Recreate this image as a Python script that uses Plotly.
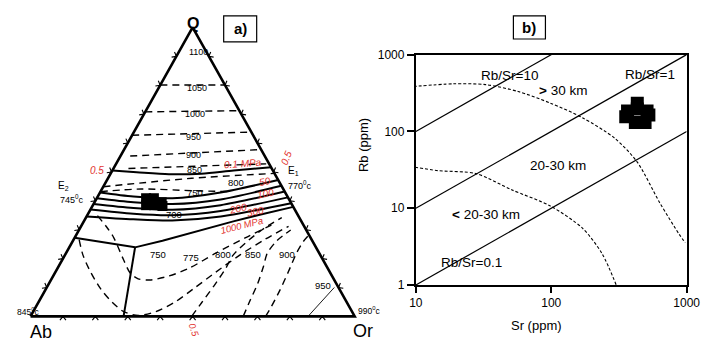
import math
import plotly.graph_objects as go

FONT = "Liberation Sans, Arial, sans-serif"
RED = "#e2352f"

# ===================== Panel a: Q-Ab-Or (compositions in %, Ab = 100 - Q - Or) =====================
tri_q = [0, 0, 100, 0]
tri_or = [0, 100, 0, 0]

# high-temperature isotherms (dashed)
iso1050_q = [80.1, 80.1];  iso1050_or = [0, 19.9]
iso1000_q = [70.8, 71.2];  iso1000_or = [0, 28.8]
iso950_q = [62.7, 63.8];   iso950_or = [0, 36.2]
iso900_q = [55.5, 57.7];   iso900_or = [3.0, 41.3]
iso850_q = [51.2, 52.8];   iso850_or = [4.6, 46.3]
iso800_q = [44.9, 47.8, 49.5];       iso800_or = [0, 25.8, 50.5]
iso750_q = [43.2, 44.1, 43.5, 43.2]; iso750_or = [0, 12.1, 28.25, 40.1]

# low-temperature isotherms in the feldspar fields (dashed)
low_inner_q = [34.9, 30.6, 27.2, 19.6, 14.95, 13.0, 12.6, 14.0, 16.6, 21.9, 27.2, 31.6]
low_inner_or = [3.2, 8.4, 12.1, 18.9, 23.3, 26.7, 30.5, 35.8, 40.5, 46.2, 52.6, 58.5]
low_outer_q = [26.6, 21.3, 15.3, 9.6, 5.0, 1.66, 0.33, 1.66, 5.0, 9.6, 15.3, 21.3, 26.6, 31.2]
low_outer_or = [1.7, 5.5, 10.9, 16.8, 22.6, 27.9, 33.1, 37.8, 42.1, 45.5, 49.5, 54.0, 58.9, 64.0]
low_b_q = [0, 4.65, 10.6, 16.6, 21.3, 26.2, 30.6, 34.2]
low_b_or = [49.7, 50.4, 51.3, 51.9, 51.9, 54.0, 56.9, 60.4]
low_c_q = [0, 5.3, 11.3, 17.3, 21.9, 26.2, 29.9]
low_c_or = [65.6, 65.0, 64.4, 63.2, 62.1, 62.9, 65.3]
low_900_q = [0, 3.3, 9.0, 15.6, 21.9, 25.9, 28.2]
low_900_or = [72.5, 72.6, 72.4, 71.8, 71.1, 71.2, 71.8]
line950_q = [0, 10.0]
line950_or = [85.6, 88.7]

# minimum-melt curves for different pressures (solid)
p01_q = [50.5, 49.9, 49.2, 49.4, 50.5, 51.6];  p01_or = [0, 7.8, 18.1, 28.0, 37.4, 48.4]
p50_q = [42.9, 41.5, 40.9, 42.9, 47.2];        p50_or = [0, 11.0, 23.3, 37.2, 52.8]
p100_q = [40.9, 39.5, 38.9, 40.5, 45.2];       p100_or = [0, 12.0, 24.3, 38.4, 54.8]
p200_q = [38.9, 37.5, 36.9, 38.5, 43.2];       p200_or = [0, 13.0, 25.3, 39.4, 56.8]
p300_q = [37.0, 35.5, 35.0, 36.5, 41.2];       p300_or = [0, 14.0, 26.2, 40.4, 58.8]
p1000_q = [34.6, 33.6, 33.2, 34.6, 39.2];      p1000_or = [0, 14.9, 27.1, 41.4, 60.8]

# field boundaries (solid)
fb_q = [27.2, 23.9, 26.2, 30.0, 32.9, 35.2, 37.9]
fb_or = [0, 20.3, 27.6, 37.7, 46.1, 53.1, 62.1]
fb2_q = [23.9, 0]
fb2_or = [20.3, 28.7]

# samples (black cluster)
blob_a_q = [40.9, 40.9, 38.5, 38.5, 39.5, 38.2]
blob_a_or = [15.2, 17.6, 16.4, 18.8, 20.7, 21.6]

tick_fracs = [10, 20, 30, 40, 50, 60, 70, 80, 90]

# ===================== Panel b: Rb vs Sr =====================
ratio_sr = [10, 1000]
ratios = [10, 1, 0.1]
deep_sr = [8.81, 19.0, 32.8, 56.9, 98.4, 169.8, 295, 432, 631, 881, 977]
deep_rb = [380, 417, 407, 331, 234, 151, 81.3, 39.8, 11.9, 4.57, 3.55]
mid_sr = [9.06, 14.5, 27.9, 50.9, 98.4, 170, 237, 302]
mid_rb = [35.1, 30.9, 28.2, 17.4, 10.7, 5.5, 2.57, 1.0]
blob_b_sr = [366, 432, 510, 432, 418, 493, 526, 355]
blob_b_rb = [185, 196, 185, 232, 131, 131, 164, 155]
b_xticks = [10, 100, 1000]
b_yticks = [1, 10, 100, 1000]

# ---------------- page geometry ----------------
W, H = 714, 349
PAD = 8  # the page draws the figure 8 px in from the window's top-left corner
VA = (24.0, 322.0)   # Ab corner (window px)
VO = (358.0, 322.0)  # Or corner
VQ = (191.0, 21.0)   # Q corner


def tern(qs, ors):
    xs, ys = [], []
    for q, o in zip(qs, ors):
        a = 100 - q - o
        xs.append((a * VA[0] + o * VO[0] + q * VQ[0]) / 100)
        ys.append((a * VA[1] + o * VO[1] + q * VQ[1]) / 100)
    return xs, ys


fig = go.Figure()


def add_a(qs, ors, width=1.4, dash=None, shape="linear", color="black"):
    x, y = tern(qs, ors)
    line = dict(color=color, width=width, shape=shape)
    if dash:
        line["dash"] = dash
    if shape == "spline":
        line["smoothing"] = 0.8
    fig.add_trace(go.Scatter(x=x, y=y, mode="lines", line=line, hoverinfo="skip",
                             showlegend=False, xaxis="x", yaxis="y"))


DASH = "7px,5px"
for qs, ors in [(iso1050_q, iso1050_or), (iso1000_q, iso1000_or), (iso950_q, iso950_or),
                (iso900_q, iso900_or), (iso850_q, iso850_or)]:
    add_a(qs, ors, 1.4, DASH)
for qs, ors in [(iso800_q, iso800_or), (iso750_q, iso750_or), (low_inner_q, low_inner_or),
                (low_outer_q, low_outer_or), (low_b_q, low_b_or), (low_c_q, low_c_or),
                (low_900_q, low_900_or)]:
    add_a(qs, ors, 1.4, DASH, "spline")
add_a(line950_q, line950_or, 0.9)

for qs, ors in [(p01_q, p01_or), (p50_q, p50_or), (p100_q, p100_or), (p200_q, p200_or),
                (p300_q, p300_or), (p1000_q, p1000_or)]:
    add_a(qs, ors, 2.0, None, "spline")
add_a(fb_q, fb_or, 2.0)
add_a(fb2_q, fb2_or, 2.0)

# sample cluster
bx, by = tern(blob_a_q, blob_a_or)
fig.add_trace(go.Scatter(x=bx, y=by, mode="markers", hoverinfo="skip", showlegend=False,
                         marker=dict(symbol="square", size=10, color="black", line=dict(width=0))))


# chevron ticks on the three sides (apex on the side, legs outside)
def unit(v):
    n = math.hypot(v[0], v[1])
    return (v[0] / n, v[1] / n)


tx, ty = [], []
sides = []
for f in tick_fracs:
    sides.append(((0, f), (0, 1), (1, 0)))                               # base (Ab-Or)
    sides.append(((f, 0), unit((-301, -167)), unit((167, -301))))        # left (Ab-Q)
    sides.append(((f, 100 - f), unit((301, -167)), unit((167, 301))))    # right (Q-Or)
L = 5.0
ang = math.radians(38)
for (q, o), n, d in sides:
    px, py = tern([q], [o])
    px, py = px[0], py[0]
    for s in (1, -1):
        tx += [px + L * (math.cos(ang) * n[0] + s * math.sin(ang) * d[0]), px]
        ty += [py + L * (math.cos(ang) * n[1] + s * math.sin(ang) * d[1]), py]
    tx.append(None)
    ty.append(None)
fig.add_trace(go.Scatter(x=tx, y=ty, mode="lines", line=dict(color="black", width=1.1),
                         hoverinfo="skip", showlegend=False))

add_a(tri_q, tri_or, 2.6)

# ---------------- panel b traces ----------------
for r in ratios:
    fig.add_trace(go.Scatter(x=ratio_sr, y=[r * s for s in ratio_sr], mode="lines",
                             line=dict(color="black", width=1.2), hoverinfo="skip",
                             showlegend=False, xaxis="x2", yaxis="y2"))
for sx, sy in [(deep_sr, deep_rb), (mid_sr, mid_rb)]:
    fig.add_trace(go.Scatter(x=sx, y=sy, mode="lines",
                             line=dict(color="black", width=1.1, dash="3px,2px", shape="spline",
                                       smoothing=0.8),
                             hoverinfo="skip", showlegend=False, xaxis="x2", yaxis="y2"))
fig.add_trace(go.Scatter(x=blob_b_sr, y=blob_b_rb, mode="markers", hoverinfo="skip",
                         showlegend=False, xaxis="x2", yaxis="y2",
                         marker=dict(symbol="square", size=13, color="black", line=dict(width=0))))

# ---------------- text ----------------
ann = []


def txt(x, y, s, size=10, color="black", angle=0, xanchor="center"):
    ann.append(dict(x=x, y=y, xref="x", yref="y", text=s, showarrow=False, textangle=angle,
                    xanchor=xanchor, yanchor="middle",
                    font=dict(family=FONT, size=size, color=color)))


# panel a labels
txt(191.5, 17, "<b>Q</b>", 16)
txt(35, 338, "Ab", 18)
txt(367, 337, "Or", 18)
txt(240, 22.5, "<b>a)</b>", 15)
for s, x, y in [("1100", 197, 47), ("1050", 195, 84), ("1000", 193, 111), ("950", 192, 135),
                ("900", 192, 154), ("850", 193, 169)]:
    txt(x, y, s, 9)
for s, x, y in [("800", 236, 182), ("750", 193, 193), ("700", 172, 216), ("750", 155, 258),
                ("775", 189, 261), ("800", 222, 258), ("850", 253, 257), ("900", 288, 257),
                ("950", 325, 290)]:
    txt(x, y, s, 9.5)
txt(243, 163, "<i>0.1 MPa</i>", 10, RED, -4)
txt(92, 170, "<i>0.5</i>", 10, RED)
txt(287, 157, "<i>0.5</i>", 10, RED, -68)
txt(192, 336, "<i>0.5</i>", 9.5, RED, 72)
txt(266, 181, "<i>50</i>", 10, RED, -10)
txt(266, 194, "<i>100</i>", 10, RED, -10)
txt(238, 210, "<i>200</i>", 10, RED, -12)
txt(256, 213, "<i>300</i>", 10, RED, -12)
txt(241, 227, "<i>1000 MPa</i>", 9.5, RED, -14)
txt(295, 170, "E<sub>1</sub>", 10)
txt(302, 185, "770<sup>0</sup>c", 9)
txt(58, 186, "E<sub>2</sub>", 10)
txt(67, 200, "745<sup>0</sup>c", 9)
txt(8.5, 317, "845<sup>0</sup>c", 8.5, xanchor="left")
txt(373, 316, "990<sup>0</sup>c", 8.5)

# panel b labels
txt(538, 21, "<b>b)</b>", 15)
txt(517, 71, "Rb/Sr=10", 13.5)
txt(662, 70, "Rb/Sr=1", 13.5)
txt(573, 87, "<b>&gt;</b> 30 km", 13.5)
txt(567, 165, "20-30 km", 13.5)
txt(493, 216, "<b>&lt;</b> 20-30 km", 13.5)
txt(478, 266, "Rb/Sr=0.1", 13.5)
txt(545, 331, "Sr (ppm)", 13)
txt(367, 143, "Rb (ppm)", 13, angle=-90)

shapes = [
    dict(type="rect", xref="x", yref="y", x0=223, y0=9, x1=257, y1=36,
         line=dict(color="black", width=1.2)),
    dict(type="rect", xref="x", yref="y", x0=521.5, y0=9, x1=554.5, y1=33,
         line=dict(color="black", width=1.2)),
]


def dom_x(a, b):
    return [(a - PAD) / W, (b - PAD) / W]


def dom_y(top, bottom):
    return [(H + PAD - bottom) / H, (H + PAD - top) / H]


fig.update_layout(
    width=W, height=H,
    margin=dict(l=0, r=0, t=0, b=0),
    paper_bgcolor="white", plot_bgcolor="rgba(0,0,0,0)",
    showlegend=False,
    annotations=ann, shapes=shapes,
    xaxis=dict(domain=[0, 1], range=[PAD, W + PAD], visible=False, fixedrange=True),
    yaxis=dict(domain=[0, 1], range=[H + PAD, PAD], visible=False, fixedrange=True),
    xaxis2=dict(type="log", domain=dom_x(421, 700), range=[1, 3], anchor="y2",
                showgrid=False, zeroline=False, showline=True, linecolor="black", linewidth=2,
                mirror=True, ticks="outside", ticklen=6, tickwidth=1.5, tickcolor="black",
                tickvals=b_xticks, ticktext=[str(v) for v in b_xticks],
                tickfont=dict(family=FONT, size=12, color="black"), fixedrange=True),
    yaxis2=dict(type="log", domain=dom_y(49.3, 289.3), range=[0, 3], anchor="x2",
                showgrid=False, zeroline=False, showline=True, linecolor="black", linewidth=2,
                mirror=True, ticks="outside", ticklen=7, tickwidth=1.5, tickcolor="black",
                tickvals=b_yticks, ticktext=[str(v) for v in b_yticks],
                tickfont=dict(family=FONT, size=12, color="black"), fixedrange=True),
)

fig.write_html("out.html", config={"displayModeBar": False})
